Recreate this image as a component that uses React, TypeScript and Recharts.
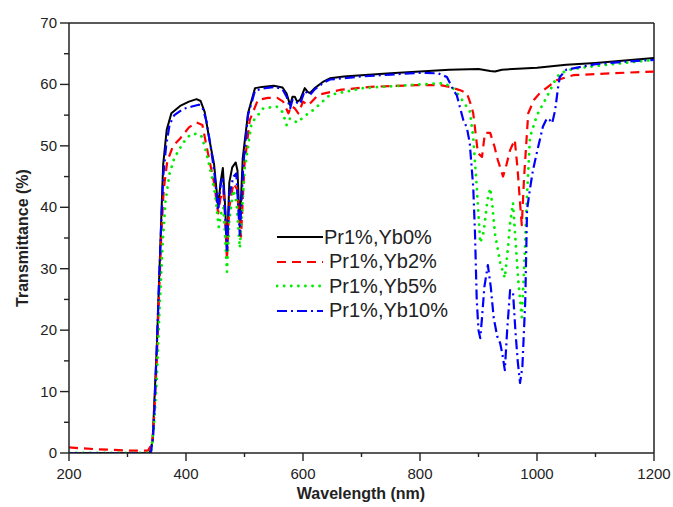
import { Line, LineChart, ReferenceLine, XAxis, YAxis } from "recharts";

// wavelength (nm) / transmittance (%)
const yb0Wl = [200, 300, 338, 343, 345, 350, 354, 358, 361, 367, 375, 390, 405, 418, 425, 432, 440, 448, 455, 459, 463, 467, 470, 474, 479, 485, 488, 492, 497, 506, 518, 530, 550, 565, 572, 578, 582, 586, 590, 595, 603, 608, 612, 620, 634, 646, 670, 700, 750, 800, 850, 900, 920, 928, 940, 1000, 1050, 1100, 1150, 1200];
const yb0T = [0, 0, 0, 2, 6.5, 17, 28, 39, 47, 52.6, 55.3, 56.5, 57.2, 57.6, 57.3, 55.5, 51, 47, 40, 44, 46.4, 40, 32.5, 44, 46.5, 47.3, 46, 36.8, 48, 55.3, 59.4, 59.6, 59.8, 59.5, 58.5, 56.6, 58, 58, 57.2, 57.5, 59.4, 58.8, 58.6, 59.4, 60.4, 61, 61.3, 61.5, 61.8, 62.1, 62.4, 62.5, 62.2, 62.1, 62.4, 62.7, 63.2, 63.5, 63.9, 64.3];

const yb2Wl = [200, 250, 300, 335, 342, 345, 350, 354, 358, 362, 368, 378, 390, 405, 418, 428, 435, 441, 448, 455, 459, 464, 467, 470, 474, 481, 487, 494, 500, 509, 523, 540, 556, 566, 575, 580, 586, 592, 600, 609, 626, 663, 715, 795, 834, 851, 870, 880, 886, 891, 899, 906, 911, 920, 927, 933, 942, 948, 954, 962, 967, 971, 974, 978, 985, 995, 1005, 1034, 1062, 1100, 1150, 1200];
const yb2T = [0.9, 0.6, 0.4, 0.4, 1.5, 5, 15, 26, 36, 43, 47.5, 50, 51.2, 53, 53.8, 53.4, 50, 47.2, 44, 39, 41.5, 42.8, 38, 31.4, 40, 43.9, 43, 35.2, 47, 54.2, 57.5, 57.8, 57.8, 57.2, 55.3, 56.5, 56.1, 55.3, 57.2, 56.6, 58.3, 59.1, 59.6, 59.9, 59.9, 59.6, 59, 58.6, 57, 55.3, 48.8, 48.2, 52.1, 52.1, 50, 47.7, 45, 47, 49.3, 51, 46, 40.7, 37.1, 45, 55.3, 57.5, 58.6, 60.7, 61.5, 61.7, 61.9, 62.1];

const yb5Wl = [200, 340, 345, 350, 355, 360, 365, 372, 380, 395, 407, 420, 427, 435, 444, 450, 456, 460, 464, 467, 470, 474, 481, 486, 492, 500, 512, 532, 555, 565, 572, 578, 583, 590, 595, 605, 617, 646, 703, 783, 839, 855, 868, 879, 885, 891, 897, 903, 909, 915, 920, 924, 928, 937, 945, 950, 954, 959, 963, 968, 974, 978, 983, 988, 1000, 1017, 1030, 1039, 1060, 1100, 1150, 1200];
const yb5T = [0, 0, 4, 12, 24, 34, 41, 45.5, 48, 50.5, 51.8, 52, 51.5, 48.8, 45, 42, 36.8, 39, 40, 35, 29.5, 38, 42.8, 41, 33.4, 46, 53.7, 56.1, 56.4, 55.5, 53.4, 54.5, 54.2, 53.8, 54.2, 55, 55.8, 58.3, 59.4, 59.9, 60.2, 59.6, 58, 56.5, 55.8, 51.4, 43.3, 34.2, 36, 41, 43.1, 40, 35.8, 31, 28.5, 33, 37.4, 40.7, 35, 28, 22.1, 30, 42, 51.4, 55, 58, 60.5, 61.8, 62.5, 63, 63.5, 64];

const yb10Wl = [200, 340, 344, 346, 350, 354, 358, 361, 366, 372, 380, 395, 410, 422, 428, 435, 442, 448, 455, 459, 463, 467, 470, 474, 481, 486, 492, 498, 506, 518, 535, 552, 565, 572, 578, 582, 586, 590, 595, 603, 608, 612, 620, 634, 646, 700, 750, 800, 831, 846, 857, 863, 874, 880, 885, 891, 894, 897, 900, 903, 906, 910, 916, 921, 926, 932, 937, 941, 945, 949, 954, 959, 963, 967, 971, 975, 980, 983, 988, 993, 1000, 1010, 1017, 1022, 1026, 1031, 1036, 1039, 1050, 1100, 1150, 1200];
const yb10T = [0, 0, 3, 7, 17, 28, 38, 45, 50, 53.5, 55, 56, 56.4, 56.7, 56.3, 54, 50, 46, 39.5, 43.5, 45, 39, 33, 42, 45, 45.5, 35.5, 47, 55, 59, 59.4, 59.6, 59.2, 58, 56.1, 57.5, 57.5, 57, 56.8, 59, 58.5, 58.3, 59.2, 60.2, 60.8, 61.3, 61.6, 61.9, 61.8, 61.2, 59.1, 58.2, 54.2, 53, 50.5, 43.3, 35.8, 24.9, 20, 18.7, 22, 27, 30.6, 27, 22, 19, 17.9, 16, 13.5, 20, 26.5, 26.2, 20, 15, 11.4, 14, 24.9, 39.6, 43, 46, 49, 53.1, 54.5, 54.2, 53.7, 55.8, 59.5, 61.2, 62.4, 63.3, 63.7, 64];

const xTicks = [200, 300, 400, 500, 600, 700, 800, 900, 1000, 1100, 1200];
const yTicks = [0, 5, 10, 15, 20, 25, 30, 35, 40, 45, 50, 55, 60, 65, 70];

const zip = (wl: number[], t: number[]) => wl.map((x, i) => ({ x, y: t[i] }));

const SERIES = [
  { name: "Pr1%,Yb0%", data: zip(yb0Wl, yb0T), color: "#000000", dash: undefined, width: 2, cap: "butt" },
  { name: "Pr1%,Yb2%", data: zip(yb2Wl, yb2T), color: "#ff0000", dash: "9 6", width: 2.2, cap: "butt" },
  { name: "Pr1%,Yb5%", data: zip(yb5Wl, yb5T), color: "#00ee00", dash: "0.1 7", width: 2.8, cap: "round" },
  { name: "Pr1%,Yb10%", data: zip(yb10Wl, yb10T), color: "#0000ff", dash: "10 4 2 4", width: 2.2, cap: "butt" },
];

const AXIS = "#222";
const FONT = "'Liberation Sans', Arial, sans-serif";

function XTick({ x, y, payload }: any) {
  const major = payload.value % 200 === 0;
  return (
    <g>
      <line x1={x} x2={x} y1={y} y2={y + (major ? 8 : 4)} stroke={AXIS} strokeWidth={1.4} />
      {major && (
        <text x={x} y={y + 26} textAnchor="middle" fontSize={15} fontFamily={FONT} fill={AXIS}>
          {payload.value}
        </text>
      )}
    </g>
  );
}

function YTick({ x, y, payload }: any) {
  const major = payload.value % 10 === 0;
  return (
    <g>
      <line x1={x - (major ? 9 : 5)} x2={x} y1={y} y2={y} stroke={AXIS} strokeWidth={1.4} />
      {major && (
        <text x={x - 12} y={y + 5} textAnchor="end" fontSize={15} fontFamily={FONT} fill={AXIS}>
          {payload.value}
        </text>
      )}
    </g>
  );
}

function LegendBox() {
  return (
    <div
      style={{
        position: "absolute",
        left: 276,
        top: 225,
        fontFamily: FONT,
        fontSize: 20,
        color: "#222",
      }}
    >
      {SERIES.map((s, i) => (
        <div key={s.name} style={{ display: "flex", alignItems: "center", height: 24.5 }}>
          <svg width={48} height={10} style={{ marginRight: i === 0 ? 0 : 5 }}>
            <line
              x1={1}
              x2={47}
              y1={5}
              y2={5}
              stroke={s.color}
              strokeWidth={s.width}
              strokeDasharray={s.dash}
              strokeLinecap={s.cap as any}
            />
          </svg>
          <span>{s.name}</span>
        </div>
      ))}
    </div>
  );
}

export default function App() {
  return (
    <div style={{ position: "absolute", left: 0, top: 0, width: 673, height: 507, background: "#fff" }}>
      <LineChart width={673} height={507} margin={{ top: 23, right: 19, bottom: 14, left: 9 }}>
        <XAxis
          type="number"
          dataKey="x"
          domain={[200, 1200]}
          ticks={xTicks}
          interval={0}
          height={40}
          tickSize={0}
          tickMargin={0}
          tickLine={false}
          stroke={AXIS}
          strokeWidth={1.5}
          tick={<XTick />}
          allowDataOverflow
          label={{
            content: () => (
              <text x={361} y={499} textAnchor="middle" fontSize={16} fontWeight="bold" fontFamily={FONT} fill={AXIS}>
                Wavelength (nm)
              </text>
            ),
          }}
        />
        <YAxis
          type="number"
          dataKey="y"
          domain={[0, 70]}
          ticks={yTicks}
          interval={0}
          width={60}
          tickSize={0}
          tickMargin={0}
          tickLine={false}
          stroke={AXIS}
          strokeWidth={1.5}
          tick={<YTick />}
          allowDataOverflow
          label={{
            content: () => (
              <text
                x={22}
                y={238}
                transform="rotate(-90 22 238)"
                textAnchor="middle"
                dominantBaseline="central"
                fontSize={16}
                fontWeight="bold"
                fontFamily={FONT}
                fill={AXIS}
              >
                Transmittance (%)
              </text>
            ),
          }}
        />
        <ReferenceLine y={70} stroke={AXIS} strokeWidth={1.5} />
        <ReferenceLine x={1200} stroke={AXIS} strokeWidth={1.5} />
        {SERIES.map((s) => (
          <Line
            key={s.name}
            data={s.data}
            dataKey="y"
            name={s.name}
            type="linear"
            stroke={s.color}
            strokeWidth={s.width}
            strokeDasharray={s.dash}
            strokeLinecap={s.cap as any}
            strokeLinejoin="round"
            dot={false}
            activeDot={false}
            isAnimationActive={false}
          />
        ))}
      </LineChart>
      <LegendBox />
    </div>
  );
}
